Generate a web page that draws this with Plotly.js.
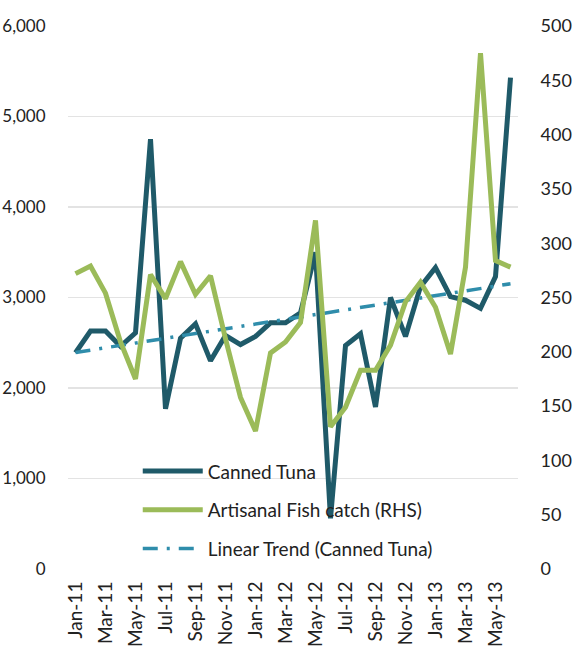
<!DOCTYPE html>
<html>
<head>
<meta charset="utf-8">
<script src="https://cdn.plot.ly/plotly-3.0.1.min.js"></script>
<style>
  html, body { margin: 0; padding: 0; background: #fff; }
  #plot { width: 574px; height: 651px; }
</style>
</head>
<body>
<div id="plot"></div>
<script>
const months = ['Jan-11', 'Feb-11', 'Mar-11', 'Apr-11', 'May-11', 'Jun-11', 'Jul-11', 'Aug-11', 'Sep-11', 'Oct-11', 'Nov-11', 'Dec-11',
    'Jan-12', 'Feb-12', 'Mar-12', 'Apr-12', 'May-12', 'Jun-12', 'Jul-12', 'Aug-12', 'Sep-12', 'Oct-12', 'Nov-12', 'Dec-12',
    'Jan-13', 'Feb-13', 'Mar-13', 'Apr-13', 'May-13', 'Jun-13'];

// canned tuna, left axis
const cannedTuna = [2390, 2630, 2630, 2460, 2610, 4750, 1770, 2550, 2710, 2300, 2580, 2480,
    2570, 2720, 2720, 2830, 3500, 560, 2470, 2600, 1790, 3000, 2570, 3120,
    3330, 3010, 2970, 2880, 3230, 5430];

// artisanal fish catch, right axis
const artisanalCatch = [272, 279, 254, 209, 175, 271, 249, 283, 253, 270, 212, 158,
    127, 199, 209, 227, 321, 131, 149, 183, 183, 206, 246, 264,
    241, 198, 278, 475, 284, 278];

const tickMonths = months.filter((m, i) => i % 2 === 0);

// least squares trend of the canned tuna series
function linearTrend(values) {
    const n = values.length;
    const mx = (n - 1) / 2;
    const my = values.reduce((a, b) => a + b, 0) / n;
    let sxy = 0, sxx = 0;
    values.forEach((v, i) => {
        sxy += (i - mx) * (v - my);
        sxx += (i - mx) * (i - mx);
    });
    const slope = sxy / sxx;
    return values.map((v, i) => my + slope * (i - mx));
}

const font = 'Lato, "Open Sans", sans-serif';

const traces = [{
        type: 'scatter',
        mode: 'lines',
        name: 'Canned Tuna',
        x: months,
        y: cannedTuna,
        yaxis: 'y',
        legendgroup: 'a',
        line: { color: '#1f5a69', width: 5 }
    },
    {
        type: 'scatter',
        mode: 'lines',
        name: 'Artisanal Fish catch (RHS)',
        x: months,
        y: artisanalCatch,
        yaxis: 'y2',
        legendgroup: 'b',
        line: { color: '#9bbb59', width: 5 }
    },
    {
        type: 'scatter',
        mode: 'lines',
        name: 'Linear Trend (Canned Tuna)',
        x: months,
        y: linearTrend(cannedTuna),
        yaxis: 'y',
        legendgroup: 'c',
        line: { color: '#2f8dab', width: 3.5, dash: '15px,9px,3px,9px' }
    }
];

const layout = {
    width: 574,
    height: 651,
    margin: { l: 68, r: 56, t: 26, b: 82 },
    paper_bgcolor: '#fff',
    plot_bgcolor: '#fff',
    font: { family: font, size: 18, color: '#222' },
    showlegend: true,
    legend: {
        x: 0.155,
        y: 0.215,
        xanchor: 'left',
        yanchor: 'top',
        bgcolor: 'rgba(0,0,0,0)',
        traceorder: 'grouped',
        tracegroupgap: 11,
        itemwidth: 60,
        font: { family: font, size: 19, color: '#222' }
    },
    xaxis: {
        type: 'category',
        range: [-0.5, 29.5],
        tickmode: 'array',
        tickvals: tickMonths,
        ticktext: tickMonths,
        tickangle: -90,
        ticks: 'outside',
        ticklen: 4,
        tickcolor: 'rgba(0,0,0,0)',
        showgrid: false,
        showline: false,
        zeroline: false,
        tickfont: { family: font, size: 19, color: '#222' }
    },
    yaxis: {
        range: [0, 6000],
        dtick: 1000,
        tickformat: ',',
        showgrid: true,
        gridcolor: '#e3e3e3',
        gridwidth: 1.5,
        zeroline: false,
        showline: false,
        ticks: 'outside',
        ticklen: 18,
        tickcolor: 'rgba(0,0,0,0)',
        tickfont: { family: font, size: 17, color: '#222' }
    },
    yaxis2: {
        overlaying: 'y',
        side: 'right',
        range: [0, 500],
        dtick: 50,
        showgrid: false,
        zeroline: false,
        showline: false,
        ticks: 'outside',
        ticklen: 18,
        tickcolor: 'rgba(0,0,0,0)',
        tickfont: { family: font, size: 18, color: '#222' }
    }
};

Plotly.newPlot('plot', traces, layout, { displayModeBar: false, staticPlot: true });
</script>
</body>
</html>
